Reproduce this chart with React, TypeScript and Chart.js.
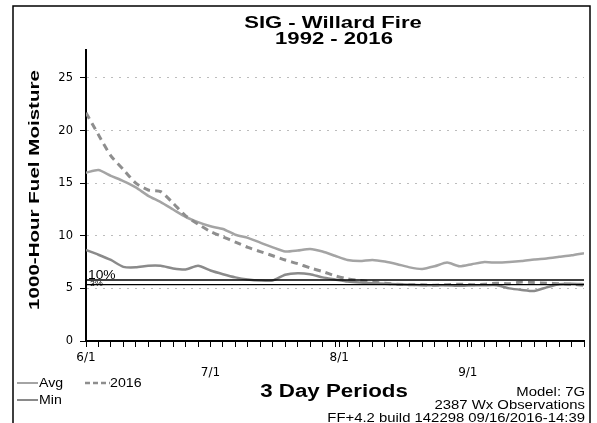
import { useEffect, useRef } from 'react';
import { Chart, registerables } from 'chart.js';

Chart.register(...registerables);

// ---- data ----
const periodDays = [0, 3, 6, 9, 12, 15, 18, 21, 24, 27, 30, 33, 36, 39, 42, 45, 48, 51, 54, 57, 60, 63, 66, 69, 72, 75, 78, 81, 84, 87, 90, 93, 96, 99, 102, 105, 108, 111, 114, 117, 120];
const avgValues = [16.0, 16.25, 15.7, 15.2, 14.6, 13.8, 13.2, 12.5, 11.8, 11.3, 10.9, 10.65, 10.1, 9.8, 9.35, 8.9, 8.5, 8.6, 8.75, 8.5, 8.1, 7.7, 7.6, 7.7, 7.55, 7.3, 7.0, 6.85, 7.1, 7.45, 7.1, 7.3, 7.5, 7.45, 7.5, 7.6, 7.75, 7.85, 8.0, 8.15, 8.35];
const y2016Values = [21.7, 19.6, 17.6, 16.3, 15.0, 14.35, 14.2, 13.1, 11.9, 11.1, 10.4, 9.9, 9.4, 8.9, 8.5, 8.1, 7.7, 7.35, 6.95, 6.6, 6.2, 5.9, 5.75, 5.6, 5.5, 5.4, 5.35, 5.35, 5.3, 5.35, 5.4, 5.35, 5.4, 5.5, 5.45, 5.6, 5.55, 5.5, 5.45, 5.4, 5.3];
const minValues = [8.65, 8.2, 7.7, 7.05, 7.0, 7.15, 7.15, 6.9, 6.8, 7.15, 6.7, 6.35, 6.05, 5.85, 5.75, 5.75, 6.3, 6.45, 6.35, 6.05, 5.85, 5.65, 5.55, 5.5, 5.45, 5.4, 5.35, 5.3, 5.3, 5.3, 5.25, 5.3, 5.3, 5.3, 5.0, 4.85, 4.75, 5.1, 5.4, 5.45, 5.4];
const pctLevels = [5.8, 5.35];
const pctLabels = ['10%', '3%'];
const yTicks = [0, 5, 10, 15, 20, 25];
const yMax = 27.66;
const monthDays = [0, 30, 61, 92];
const monthLabels = ['6/1', '7/1', '8/1', '9/1'];
const titleLines = ['SIG - Willard Fire', '1992 - 2016'];
const yTitle = '1000-Hour Fuel Moisture';
const xTitle = '3 Day Periods';
const infoLines = ['Model: 7G', '2387 Wx Observations', 'FF+4.2 build 142298 09/16/2016-14:39'];
const seriesNames = ['Avg', '2016', 'Min'];

const xTickDays = Array.from(new Set([...periodDays, ...monthDays])).sort((a, b) => a - b);

const AVG_COLOR = '#a4a4a4';
const MIN_COLOR = '#8a8a8a';
const Y16_COLOR = '#8e8e8e';

function sText(ctx: CanvasRenderingContext2D, s: string, x: number, y: number, font: string, align: CanvasTextAlign, sx: number, rot = false) {
  ctx.save();
  ctx.translate(x, y);
  if (rot) ctx.rotate(-Math.PI / 2);
  ctx.scale(sx, 1);
  ctx.font = font;
  ctx.textAlign = align;
  ctx.textBaseline = 'alphabetic';
  ctx.fillStyle = '#000';
  ctx.fillText(s, 0, 0);
  ctx.restore();
}

const decorPlugin = {
  id: 'decor',
  beforeDraw(chart: any) {
    const ctx = chart.ctx;
    ctx.save();
    ctx.fillStyle = '#fff';
    ctx.fillRect(0, 0, chart.width, chart.height);
    ctx.restore();
  },
  afterDraw(chart: any) {
    const ctx: CanvasRenderingContext2D = chart.ctx;
    const ys = chart.scales.y;
    const xs = chart.scales.x;
    // outer frame
    ctx.save();
    ctx.strokeStyle = '#000';
    ctx.lineWidth = 1.5;
    ctx.strokeRect(13, 6, 577, 430);
    ctx.restore();
    // titles
    sText(ctx, titleLines[0], 333, 28, 'bold 16px "Liberation Sans"', 'center', 1.38);
    sText(ctx, titleLines[1], 334, 43.5, 'bold 16px "Liberation Sans"', 'center', 1.38);
    sText(ctx, yTitle, 39, 190, 'bold 15px "Liberation Sans"', 'center', 1.37, true);
    sText(ctx, xTitle, 334, 397, 'bold 18px "Liberation Sans"', 'center', 1.24);
    // info lines
    const infoY = [396, 409, 422];
    infoLines.forEach((t, i) => sText(ctx, t, 585, infoY[i], '12px "Liberation Sans"', 'right', 1.24));
    // percent labels
    const lx = xs.getPixelForValue(periodDays[0]) + 2;
    sText(ctx, pctLabels[0], lx, ys.getPixelForValue(pctLevels[0]) - 0.5, '12px "Liberation Sans"', 'left', 1.15);
    sText(ctx, pctLabels[1], lx + 2, ys.getPixelForValue(pctLevels[1]) + 1.5, '8px "Liberation Sans"', 'left', 1.1);
    // legend
    ctx.save();
    ctx.lineWidth = 2;
    ctx.strokeStyle = AVG_COLOR;
    ctx.beginPath(); ctx.moveTo(17, 383); ctx.lineTo(38, 383); ctx.stroke();
    ctx.strokeStyle = MIN_COLOR;
    ctx.beginPath(); ctx.moveTo(17, 400); ctx.lineTo(38, 400); ctx.stroke();
    ctx.strokeStyle = Y16_COLOR;
    ctx.lineWidth = 2.5;
    ctx.setLineDash([5, 3]);
    ctx.beginPath(); ctx.moveTo(85, 383); ctx.lineTo(110, 383); ctx.stroke();
    ctx.restore();
    sText(ctx, seriesNames[0], 39, 387, '12px "Liberation Sans"', 'left', 1.18);
    sText(ctx, seriesNames[1], 110, 387, '12px "Liberation Sans"', 'left', 1.18);
    sText(ctx, seriesNames[2], 39, 404, '12px "Liberation Sans"', 'left', 1.18);
  },
};

export default function App() {
  const ref = useRef<HTMLCanvasElement | null>(null);
  useEffect(() => {
    document.body.style.margin = '0';
    const canvas = ref.current;
    if (!canvas) return;
    const pts = (vals: number[]) => vals.map((v, i) => ({ x: periodDays[i], y: v }));
    const flat = (v: number) => [
      { x: periodDays[0], y: v },
      { x: periodDays[periodDays.length - 1], y: v },
    ];
    const chart = new Chart(canvas, {
      type: 'line',
      data: {
        datasets: [
          { label: pctLabels[0], data: flat(pctLevels[0]), borderColor: '#000', borderWidth: 1.3, pointRadius: 0, tension: 0 },
          { label: pctLabels[1], data: flat(pctLevels[1]), borderColor: '#000', borderWidth: 1.3, pointRadius: 0, tension: 0 },
          { label: seriesNames[1], data: pts(y2016Values), borderColor: Y16_COLOR, borderWidth: 3, borderDash: [7, 5], pointRadius: 0, tension: 0.2 },
          { label: seriesNames[2], data: pts(minValues), borderColor: MIN_COLOR, borderWidth: 2.5, pointRadius: 0, tension: 0.2 },
          { label: seriesNames[0], data: pts(avgValues), borderColor: AVG_COLOR, borderWidth: 2.5, pointRadius: 0, tension: 0.2 },
        ],
      },
      options: {
        animation: false,
        responsive: false,
        maintainAspectRatio: false,
        layout: { padding: { left: 13, top: 50, right: 13, bottom: 2 } },
        plugins: { legend: { display: false }, tooltip: { enabled: false }, title: { display: false } },
        scales: {
          x: {
            type: 'linear',
            min: periodDays[0],
            max: periodDays[periodDays.length - 1],
            afterFit: (s: any) => { s.height = 80; },
            afterBuildTicks: (s: any) => { s.ticks = xTickDays.map((v) => ({ value: v })); },
            ticks: {
              autoSkip: false,
              maxRotation: 0,
              minRotation: 0,
              padding: 3,
              color: '#000',
              font: { family: 'DejaVu Sans', size: 12, lineHeight: 1.25 },
              callback: (v: any) => {
                const k = monthDays.indexOf(Number(v));
                if (k < 0) return '';
                return k % 2 === 0 ? monthLabels[k] : ['', monthLabels[k]];
              },
            },
            grid: { drawOnChartArea: false, drawTicks: true, tickLength: 6, color: '#000', tickColor: '#000', lineWidth: 1 },
            border: { display: true, color: '#000', width: 2 },
          },
          y: {
            type: 'linear',
            min: 0,
            max: yMax,
            afterFit: (s: any) => { s.width = 73; },
            afterBuildTicks: (s: any) => { s.ticks = yTicks.map((v) => ({ value: v })); },
            ticks: { color: '#000', padding: 7, font: { family: 'DejaVu Sans', size: 11.5 } },
            grid: {
              color: (c: any) => (c.tick && c.tick.value === 0 ? 'rgba(0,0,0,0)' : '#bcbcbc'),
              tickColor: '#000',
              tickLength: 6,
              lineWidth: 1,
              tickBorderDash: [],
            },
            border: { display: true, color: '#000', width: 2, dash: [2, 6] },
          },
        },
      },
      plugins: [decorPlugin],
    });
    return () => chart.destroy();
  }, []);
  return (
    <div style={{ width: 597, height: 423 }}>
      <canvas ref={ref} width={597} height={423} style={{ display: 'block', width: 597, height: 423 }} />
    </div>
  );
}
